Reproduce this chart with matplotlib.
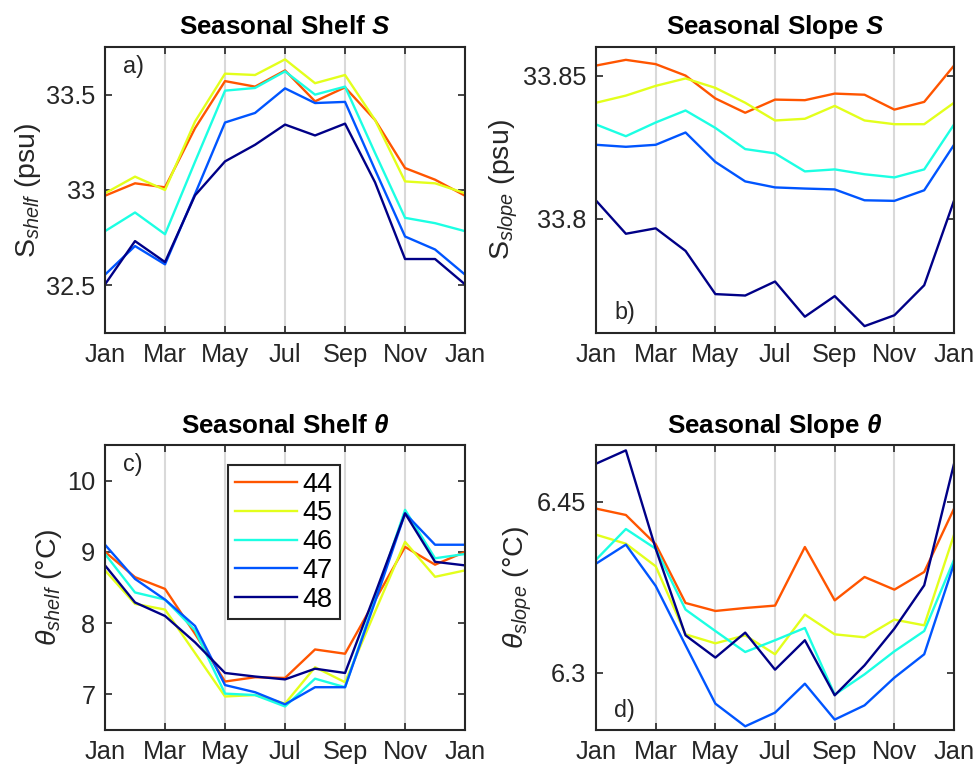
import numpy as np
import matplotlib
matplotlib.use('Agg')
import matplotlib.pyplot as plt

plt.rcParams['font.family'] = ['Liberation Sans', 'DejaVu Sans']
plt.rcParams['mathtext.fontset'] = 'custom'
plt.rcParams['mathtext.rm'] = 'Liberation Sans'
plt.rcParams['mathtext.it'] = 'Liberation Sans:italic'
plt.rcParams['mathtext.bf'] = 'Liberation Sans:bold:italic'

# monthly climatology, Jan..Dec plus Jan again to close the cycle
months = np.arange(1, 14)
month_ticks = [1, 3, 5, 7, 9, 11, 13]
month_labels = ['Jan', 'Mar', 'May', 'Jul', 'Sep', 'Nov', 'Jan']

isobaths = ['44', '45', '46', '47', '48']
line_colors = ['#ff5500', '#e3ff1c', '#1cffe3', '#0055ff', '#000087']

shelf_S = [
    [32.970, 33.035, 33.014, 33.324, 33.571, 33.542, 33.627, 33.465, 33.538, 33.367, 33.115, 33.054, 32.970],
    [32.983, 33.070, 33.000, 33.359, 33.610, 33.603, 33.685, 33.560, 33.603, 33.367, 33.045, 33.035, 32.983],
    [32.784, 32.882, 32.768, 33.148, 33.521, 33.535, 33.622, 33.500, 33.542, 33.194, 32.854, 32.826, 32.784],
    [32.556, 32.706, 32.610, 32.979, 33.354, 33.404, 33.533, 33.456, 33.462, 33.106, 32.756, 32.688, 32.556],
    [32.505, 32.732, 32.622, 32.972, 33.150, 33.237, 33.343, 33.286, 33.348, 33.040, 32.638, 32.638, 32.505],
]
slope_S = [
    [33.8535, 33.8555, 33.8540, 33.8500, 33.8420, 33.8370, 33.8416, 33.8414, 33.8437, 33.8433, 33.8381, 33.8408, 33.8535],
    [33.8405, 33.8430, 33.8464, 33.8490, 33.8457, 33.8405, 33.8343, 33.8349, 33.8394, 33.8343, 33.8330, 33.8330, 33.8405],
    [33.8329, 33.8288, 33.8336, 33.8378, 33.8317, 33.8243, 33.8228, 33.8165, 33.8172, 33.8155, 33.8144, 33.8172, 33.8329],
    [33.8258, 33.8251, 33.8258, 33.8301, 33.8198, 33.8130, 33.8109, 33.8105, 33.8102, 33.8064, 33.8062, 33.8099, 33.8258],
    [33.8063, 33.7947, 33.7966, 33.7887, 33.7736, 33.7731, 33.7780, 33.7657, 33.7729, 33.7624, 33.7662, 33.7767, 33.8063],
]
shelf_T = [
    [9.00, 8.645, 8.48, 7.85, 7.18, 7.24, 7.23, 7.63, 7.57, 8.32, 9.07, 8.82, 9.00],
    [8.74, 8.27, 8.19, 7.58, 6.97, 6.99, 6.87, 7.38, 7.17, 8.16, 9.14, 8.65, 8.74],
    [8.97, 8.43, 8.33, 7.90, 7.01, 6.99, 6.83, 7.22, 7.10, 8.34, 9.59, 8.91, 8.97],
    [9.10, 8.62, 8.33, 7.96, 7.13, 7.03, 6.86, 7.10, 7.10, 8.30, 9.54, 9.10, 9.10],
    [8.81, 8.29, 8.10, 7.73, 7.30, 7.25, 7.21, 7.36, 7.30, 8.41, 9.54, 8.86, 8.81],
]
slope_T = [
    [6.4442, 6.4386, 6.4129, 6.3614, 6.3544, 6.3570, 6.3591, 6.4105, 6.3637, 6.3842, 6.3731, 6.3886, 6.4442],
    [6.4213, 6.4134, 6.3936, 6.3339, 6.3260, 6.3330, 6.3164, 6.3512, 6.3339, 6.3313, 6.3468, 6.3418, 6.4213],
    [6.3994, 6.4263, 6.4090, 6.3556, 6.3368, 6.3184, 6.3287, 6.3395, 6.2810, 6.2988, 6.3190, 6.3368, 6.3994],
    [6.3959, 6.4126, 6.3763, 6.3243, 6.2731, 6.2532, 6.2652, 6.2906, 6.2591, 6.2716, 6.2959, 6.3164, 6.3959],
    [6.4836, 6.4953, 6.4090, 6.3330, 6.3135, 6.3354, 6.3029, 6.3287, 6.2804, 6.3067, 6.3389, 6.3769, 6.4836],
]

TICK_FS = 18.3
TITLE_FS = 18.7
LABEL_FS = 20.5
INK = '#262626'

fig = plt.figure(figsize=(9.76, 7.65), dpi=100)
ax_a = fig.add_axes([0.1076, 0.5647, 0.3689, 0.3739])
ax_b = fig.add_axes([0.6107, 0.5647, 0.3668, 0.3739])
ax_c = fig.add_axes([0.1076, 0.0458, 0.3689, 0.3725])
ax_d = fig.add_axes([0.6107, 0.0458, 0.3668, 0.3725])

panels = [
    (ax_a, shelf_S, r'Seasonal Shelf $\mathbf{S}$', r'S$_{\mathit{shelf}}$ (psu)',
     (32.25, 33.75), [32.5, 33, 33.5], ['32.5', '33', '33.5'], 'a)', 'top'),
    (ax_b, slope_S, r'Seasonal Slope $\mathbf{S}$', r'S$_{\mathit{slope}}$ (psu)',
     (33.76, 33.86), [33.8, 33.85], ['33.8', '33.85'], 'b)', 'bottom'),
    (ax_c, shelf_T, r'Seasonal Shelf $\mathbf{\theta}$', r'$\theta_{\mathit{shelf}}$ (°C)',
     (6.5, 10.5), [7, 8, 9, 10], ['7', '8', '9', '10'], 'c)', 'top'),
    (ax_d, slope_T, r'Seasonal Slope $\mathbf{\theta}$', r'$\theta_{\mathit{slope}}$ (°C)',
     (6.25, 6.5), [6.3, 6.45], ['6.3', '6.45'], 'd)', 'bottom'),
]

for ax, data, title, ylabel, ylim, yt, ytl, tag, tag_pos in panels:
    for x in month_ticks:
        ax.axvline(x, color='#d9d9d9', lw=1.5, zorder=0)
    for series, col, lab in zip(data, line_colors, isobaths):
        ax.plot(months, series, color=col, lw=1.7, label=lab, zorder=2)
    ax.set_xlim(1, 13)
    ax.set_ylim(*ylim)
    ax.set_xticks(month_ticks)
    ax.set_xticklabels(month_labels)
    ax.set_yticks(yt)
    ax.set_yticklabels(ytl)
    ax.tick_params(direction='in', top=True, right=True, length=5, width=1.2,
                   labelsize=TICK_FS, colors=INK, pad=7)
    for sp in ax.spines.values():
        sp.set_color(INK)
        sp.set_linewidth(1.5)
        sp.set_zorder(3)
    ax.set_title(title, fontsize=TITLE_FS, fontweight='bold', pad=9)
    ax.set_ylabel(ylabel, fontsize=LABEL_FS, color=INK, labelpad=2)
    ty = 0.93 if tag_pos == 'top' else 0.07
    ax.text(0.05, ty, tag, transform=ax.transAxes, fontsize=TICK_FS - 1.5, color=INK,
            va='center', ha='left')

leg = ax_c.legend(loc='upper left', bbox_to_anchor=(0.342, 0.93), fontsize=19.5,
                  handlelength=2.3, handletextpad=0.2, labelspacing=0.1,
                  borderpad=0.25, borderaxespad=0, fancybox=False, framealpha=1)
leg.get_frame().set_edgecolor(INK)
leg.get_frame().set_linewidth(1.5)

plt.savefig('out.png', dpi=100)
plt.close()
